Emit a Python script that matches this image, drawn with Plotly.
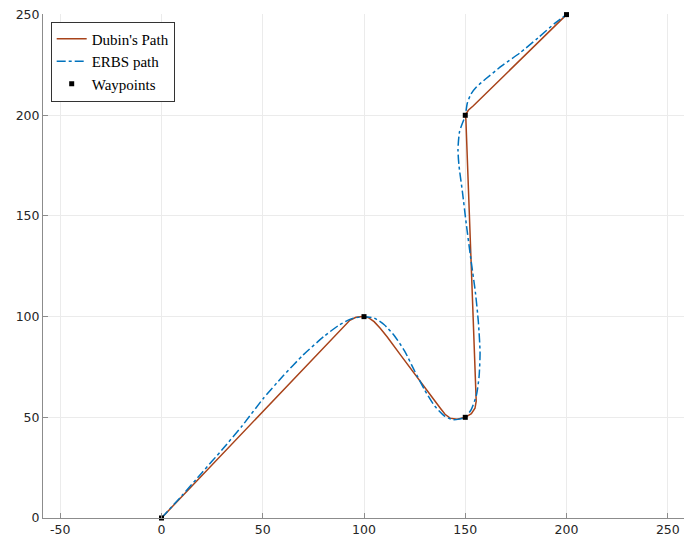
import plotly.graph_objects as go

# Waypoints
wp_x = [0, 100, 150, 150, 200]
wp_y = [0, 100, 50, 200, 250]

# Dubin's path
dub_x = [0, 93, 96, 99, 102, 105, 108, 111.4, 118, 126, 134, 137.7, 140, 142.5, 146, 150,
         153, 154.8, 155.4, 150.3, 150, 151.5, 154, 200]
dub_y = [0, 98.2, 99.7, 100.1, 99.6, 97.5, 94.2, 90, 81, 70.5, 59.5, 54.5, 51.5, 49.6, 49.1, 50,
         51.8, 54.5, 58, 198, 200, 202.5, 204.7, 250]

# ERBS path
erbs_x = [0, 10, 20, 30, 40, 50, 60, 70, 80, 88, 94, 100, 105, 110, 115, 120, 125, 130, 135,
          140, 144, 147, 150, 153, 155.5, 156.8, 157.3, 156.5, 155, 152.7, 150.5, 148.6, 146.9,
          146.4, 147.2, 150, 151, 152.8, 155.5, 160, 168, 177, 186, 194, 200]
erbs_y = [0, 11, 22.5, 34, 46, 59, 70.5, 81, 90, 96, 99, 100, 99.3, 96, 90.5, 83, 73, 63.5, 55.5,
          50.5, 48.8, 49.1, 50, 54, 61, 70, 82, 97, 112, 129, 146, 162, 175, 183, 192, 200,
          206, 210.5, 214, 218, 224.5, 231, 238.5, 245.5, 250]

x_ticks = [-50, 0, 50, 100, 150, 200, 250]
x_ticklabels = ["-50", "0", "50", "100", "150", "200", "250"]
y_ticks = [0, 50, 100, 150, 200, 250]

fig = go.Figure()
fig.add_trace(go.Scatter(x=dub_x, y=dub_y, mode="lines", name="Dubin's Path",
                         line=dict(color="#a8431a", width=1.5)))
fig.add_trace(go.Scatter(x=erbs_x, y=erbs_y, mode="lines", name="ERBS path",
                         line=dict(color="#0072bd", width=1.5, dash="dashdot", shape="spline",
                                   smoothing=0.6)))
fig.add_trace(go.Scatter(x=wp_x, y=wp_y, mode="markers", name="Waypoints", cliponaxis=False,
                         marker=dict(symbol="square", size=5, color="black")))

axis_common = dict(showgrid=True, gridcolor="#ebebeb", gridwidth=1, zeroline=False,
                   showline=True, linecolor="#8c8c8c", linewidth=1, automargin=False,
                   ticks="inside", ticklen=5, tickcolor="#8c8c8c", ticklabeloverflow="allow",
                   tickfont=dict(family="DejaVu Sans", size=12.5, color="#262626"))

fig.update_layout(
    width=686, height=540,
    margin=dict(l=43, r=2, t=14, b=22),
    plot_bgcolor="white", paper_bgcolor="white",
    xaxis=dict(range=[-58.5, 258], tickvals=x_ticks, ticktext=x_ticklabels, **axis_common),
    yaxis=dict(range=[0, 250.3], tickvals=y_ticks, **axis_common),
    legend=dict(x=0.012, y=0.985, xanchor="left", yanchor="top",
                bgcolor="white", bordercolor="#333333", borderwidth=1,
                font=dict(family="Liberation Serif", size=15, color="black"),
                tracegroupgap=0, itemwidth=30),
    showlegend=True,
)
fig.write_html("out.html", config={"displayModeBar": False},
               post_script="document.body.style.margin='0';document.body.style.overflow='hidden';")
